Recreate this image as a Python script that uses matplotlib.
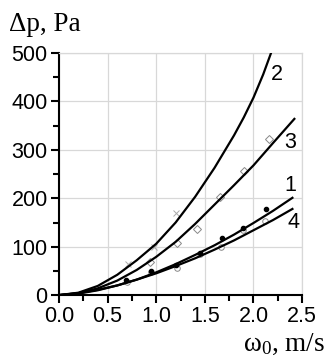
import numpy as np
import matplotlib
matplotlib.use("Agg")
import matplotlib.pyplot as plt
from matplotlib.ticker import MultipleLocator

plt.rcParams["mathtext.fontset"] = "custom"
plt.rcParams["mathtext.rm"] = "Liberation Serif"
plt.rcParams["mathtext.it"] = "Liberation Serif:italic"

# fitted curves
x1 = [0, 0.2, 0.4, 0.6, 0.8, 1.0, 1.2, 1.4, 1.6, 1.8, 2.0, 2.2, 2.4]
y1 = [0, 3, 10, 20, 32, 47, 64, 83, 103, 125, 149, 174, 201]
x2 = [0, 0.2, 0.4, 0.6, 0.8, 1.0, 1.2, 1.4, 1.6, 1.8, 1.9, 2.0, 2.1, 2.18]
y2 = [0, 5, 19, 42, 72, 106, 150, 203, 263, 330, 367, 408, 456, 500]
x3 = [0, 0.2, 0.4, 0.6, 0.8, 1.0, 1.2, 1.4, 1.6, 1.8, 2.0, 2.2, 2.42]
y3 = [0, 4, 14, 30, 52, 79, 110, 147, 187, 227, 268, 314, 364]
x4 = [0, 0.2, 0.4, 0.6, 0.8, 1.0, 1.2, 1.4, 1.6, 1.8, 2.0, 2.2, 2.4]
y4 = [0, 4, 11, 20, 32, 45, 60, 76, 94, 113, 134, 155, 178]

# measured points
mx1 = [0.69, 0.95, 1.2, 1.45, 1.68, 1.89, 2.13]
my1 = [31, 50, 62, 87, 118, 138, 178]
mx2 = [0.71, 0.98, 1.2]
my2 = [64, 99, 170]
mx3 = [0.94, 1.21, 1.42, 1.66, 1.9, 2.16]
my3 = [69, 108, 137, 203, 256, 323]
mx4 = [0.7, 0.95, 1.21, 1.45, 1.67, 1.89, 2.12]
my4 = [28, 48, 56, 85, 99, 134, 153]

xticks = [0.0, 0.5, 1.0, 1.5, 2.0, 2.5]
yticks = [0, 100, 200, 300, 400, 500]

labels = ["1", "2", "3", "4"]
label_pos = [(2.38, 227), (2.24, 455), (2.38, 316), (2.41, 149)]

fig = plt.figure(figsize=(3.27, 3.56), dpi=100)
ax = fig.add_axes([0.18, 0.171, 0.744, 0.68])

for xs, ys in [(x1, y1), (x2, y2), (x3, y3), (x4, y4)]:
    ax.plot(xs, ys, color="black", lw=1.6, zorder=3)

ax.plot(mx1, my1, "o", ms=3, color="black", zorder=4)
ax.plot(mx2, my2, "x", ms=4, mew=0.7, color="#aaaaaa", zorder=2)
ax.plot(mx3, my3, "D", ms=4, mfc="white", mec="#888888", mew=0.7, zorder=2)
ax.plot(mx4, my4, "o", ms=4, mfc="white", mec="#888888", mew=0.7, zorder=2)

for lab, (lx, ly) in zip(labels, label_pos):
    ax.text(lx, ly, lab, fontsize=15.5, family="Liberation Sans",
            ha="center", va="center")

ax.set_xticks(xticks)
ax.set_xticklabels([f"{v:.1f}" for v in xticks])
ax.set_yticks(yticks)
ax.xaxis.set_minor_locator(MultipleLocator(0.25))
ax.yaxis.set_minor_locator(MultipleLocator(50))
ax.set_xlim(0, 2.5)
ax.set_ylim(0, 500)
ax.grid(True, which="major", color="#d8d8d8", lw=0.9)
ax.set_axisbelow(True)

for s in ["top", "right"]:
    ax.spines[s].set_color("#d8d8d8")
    ax.spines[s].set_linewidth(0.9)
for s in ["left", "bottom"]:
    ax.spines[s].set_linewidth(1.5)

ax.tick_params(which="major", direction="out", length=6, width=1.5,
               labelsize=15.5, pad=2)
ax.tick_params(which="minor", direction="out", length=4, width=1.5)
for t in ax.get_xticklabels() + ax.get_yticklabels():
    t.set_family("Liberation Sans")

fig.text(0.026, 0.914, "Δp, Pa", fontsize=19.5, family="Liberation Serif",
         ha="left", va="baseline")
fig.text(0.995, 0.014, r"ω$_\mathrm{0}$, m/s", fontsize=19.5,
         family="Liberation Serif", ha="right", va="baseline")

fig.savefig("out.png", dpi=100)
